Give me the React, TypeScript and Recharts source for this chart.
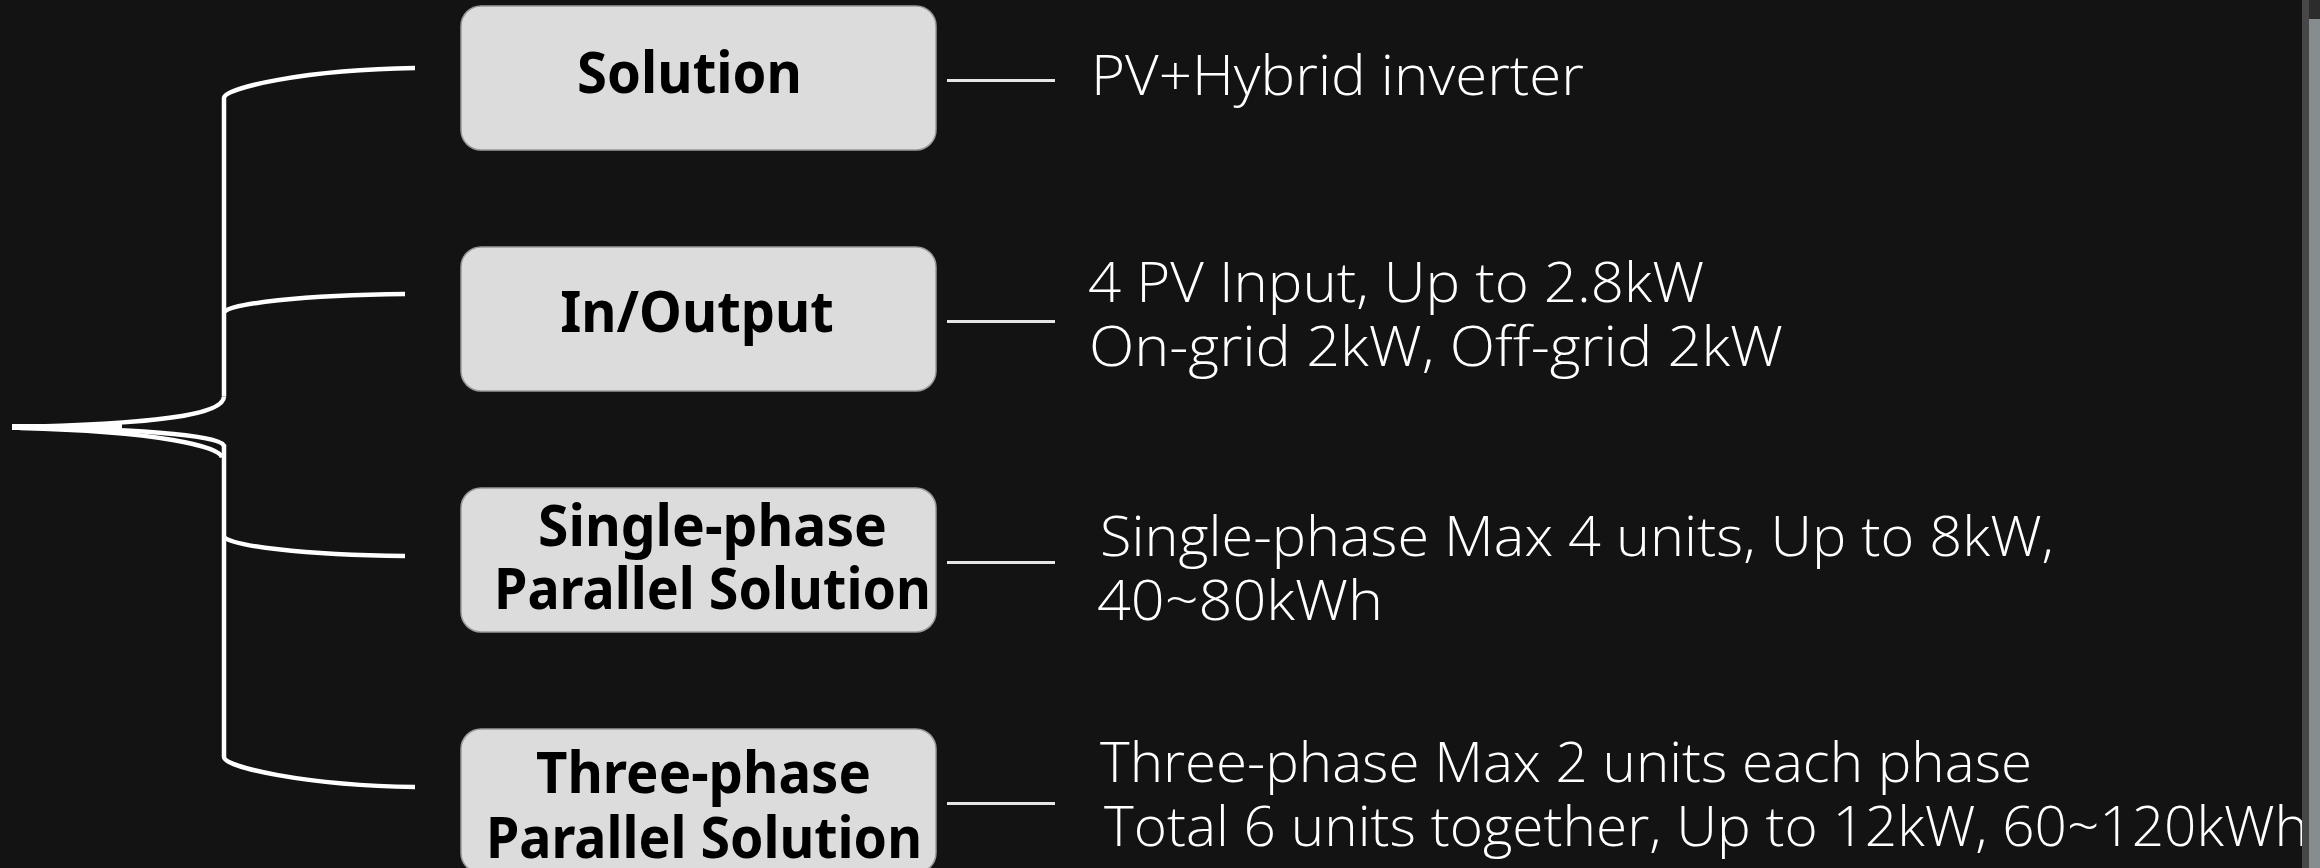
import React from 'react';
import { ComposedChart, Scatter, XAxis, YAxis, ReferenceLine } from 'recharts';

// ---------- data ----------
const categories = ['Solution', 'In/Output', 'Single-phase Parallel Solution', 'Three-phase Parallel Solution'];
const labelLines = [['Solution'], ['In/Output'], ['Single-phase', 'Parallel Solution'], ['Three-phase', 'Parallel Solution']];
const descriptions = [
  ['PV+Hybrid inverter'],
  ['4 PV Input, Up to 2.8kW', 'On-grid 2kW, Off-grid 2kW'],
  ['Single-phase Max 4 units, Up to 8kW,', '40~80kWh'],
  ['Three-phase Max 2 units each phase', 'Total 6 units together, Up to 12kW, 60~120kWh'],
];
const rowIndex = [0, 1, 2, 3];

// ---------- layout / style ----------
const W = 2320;
const H = 868;
const BG = '#131313';
const ROW_TOP = 78;
const ROW_BOTTOM = H - 801;
const ROOT_X = 12;
const STEM_X = 224;
const BRANCH_END = [415, 405, 405, 415];
const BRANCH_DY = [
  { s: 20, e: -10, c1x: 0, c1y: 0.33 },
  { s: -7, e: -25, c1x: 8, c1y: 0.45 },
  { s: -23, e: -4, c1x: 8, c1y: 0.45 },
  { s: -44, e: -14, c1x: 0, c1y: 0.33 },
];
const BOX_CX = 698.5;
const BOX_W = 475;
const BOX_H = 144;
const BOX_R = 20;
const LINE_W = 4.5;
const LABEL_LAYOUT = [
  [{ c: -9, dy: 15, w: 221 }],
  [{ c: -1.5, dy: 13, w: 269.5 }],
  [{ c: 14, dy: -14, w: 345 }, { c: 14, dy: 49, w: 433 }],
  [{ c: 5, dy: -8, w: 331 }, { c: 5.5, dy: 57, w: 432 }],
];
const DESC_LAYOUT = [
  [{ x: 1094, dy: 17, w: 488 }],
  [{ x: 1091, dy: -17, w: 611 }, { x: 1092, dy: 47, w: 689 }],
  [{ x: 1103, dy: -4, w: 949 }, { x: 1100, dy: 60, w: 281 }],
  [{ x: 1103, dy: -19, w: 927 }, { x: 1107, dy: 45, w: 1199 }],
];
const CONN_X0 = 947 - BOX_CX;
const CONN_X1 = 1055 - BOX_CX;

const renderBrace = (p: any) => {
  const { x1, y1, x2, y2 } = p;
  const c = (y1 + y2) / 2 - 13;
  const common = { stroke: '#ffffff', strokeWidth: LINE_W, fill: 'none' };
  return (
    <g>
      <path d={`M${x2},${y1 + 20} L${x2},${c - 30}`} {...common} />
      <path d={`M${x2},${c - 30} C${x2},${c - 12} ${x2 - 64},${c - 2.5} ${x1},${c + 0.5}`} {...common} />
      <path d={`M${x1},${c + 0.5} C${x2 - 64},${c + 3} ${x2},${c + 10} ${x2},${c + 20}`} {...common} />
      <path d={`M${x1 + 8},${c + 1.5} C${x2 - 64},${c + 5} ${x2 - 4},${c + 20} ${x2 - 2},${c + 31}`} {...common} />
      <path d={`M${x2},${c + 18} L${x2},${y2 - 44}`} {...common} />
      <path d={`M${x1},${c + 0.5} L${x1 + 110},${c + 0.5}`} stroke="#ffffff" strokeWidth={6} />
    </g>
  );
};

const makeBranch = (i: number) => (p: any) => {
  const { x1, y1, x2 } = p;
  const b = BRANCH_DY[i];
  const ys = y1 + b.s;
  const ye = y1 + b.e;
  const d = `M${x1},${ys} C${x1 + b.c1x},${ys + (ye - ys) * b.c1y} ${x1 + (x2 - x1) * 0.42},${ye + (ys - ye) * 0.05} ${x2},${ye}`;
  return <path d={d} stroke="#ffffff" strokeWidth={LINE_W} fill="none" />;
};

const renderRow = (p: any) => {
  const { cx, cy, payload } = p;
  const i = payload.row;
  const lines: string[] = payload.label;
  const desc: string[] = payload.desc;
  return (
    <g>
      <rect x={cx - BOX_W / 2} y={cy - BOX_H / 2} width={BOX_W} height={BOX_H} rx={BOX_R} ry={BOX_R}
        fill="#dcdcdc" stroke="#9a9a9a" strokeWidth={1.5} />
      {lines.map((t, k) => {
        const L = LABEL_LAYOUT[i][k];
        return (
          <text key={k} x={cx + L.c - L.w / 2 - 2} y={cy + L.dy} fontFamily="'Noto Sans', 'Open Sans', sans-serif"
            fontWeight={700} fontSize={58} fill="#000000" textLength={L.w + 4} lengthAdjust="spacingAndGlyphs">
            {t}
          </text>
        );
      })}
      <line x1={cx + CONN_X0} x2={cx + CONN_X1} y1={cy + 2.5} y2={cy + 2.5} stroke="#e6e6e6" strokeWidth={3} />
      {desc.map((t, k) => {
        const D = DESC_LAYOUT[i][k];
        return (
          <text key={k} x={D.x - 3} y={cy + D.dy} fontFamily="'Open Sans', 'Noto Sans', sans-serif"
            fontWeight={300} fontSize={56} fill="#ffffff" textLength={D.w + 5} lengthAdjust="spacingAndGlyphs">
            {t}
          </text>
        );
      })}
    </g>
  );
};

export default function App() {
  const rows = rowIndex.map((i) => ({
    row: i,
    x: BOX_CX,
    category: categories[i],
    label: labelLines[i],
    desc: descriptions[i],
  }));
  return (
    <div style={{ position: 'absolute', left: 0, top: 0, width: W, height: H, background: BG, overflow: 'hidden' }}>
      <ComposedChart width={W} height={H} data={rows} margin={{ top: ROW_TOP, right: 0, bottom: ROW_BOTTOM, left: 0 }}>
        <XAxis type="number" dataKey="x" domain={[0, W]} hide />
        <YAxis type="number" dataKey="row" domain={[0, 3]} reversed hide />
        <ReferenceLine
          segment={[{ x: ROOT_X, y: 0 }, { x: STEM_X, y: 3 }]}
          ifOverflow="visible"
          shape={renderBrace}
        />
        {rowIndex.map((i) => (
          <ReferenceLine
            key={i}
            segment={[{ x: STEM_X, y: i }, { x: BRANCH_END[i], y: i }]}
            ifOverflow="visible"
            shape={makeBranch(i)}
          />
        ))}
        <Scatter data={rows} dataKey="row" isAnimationActive={false} shape={renderRow} />
      </ComposedChart>
      <div style={{ position: 'absolute', left: 2302, top: 0, width: 7, height: H, background: '#474747' }} />
      <div style={{ position: 'absolute', left: 2309, top: 0, width: 11, height: 19, background: '#2c2c2c' }} />
      <div style={{ position: 'absolute', left: 2309, top: 19, width: 11, height: H - 19, background: '#878d8f' }} />
    </div>
  );
}
